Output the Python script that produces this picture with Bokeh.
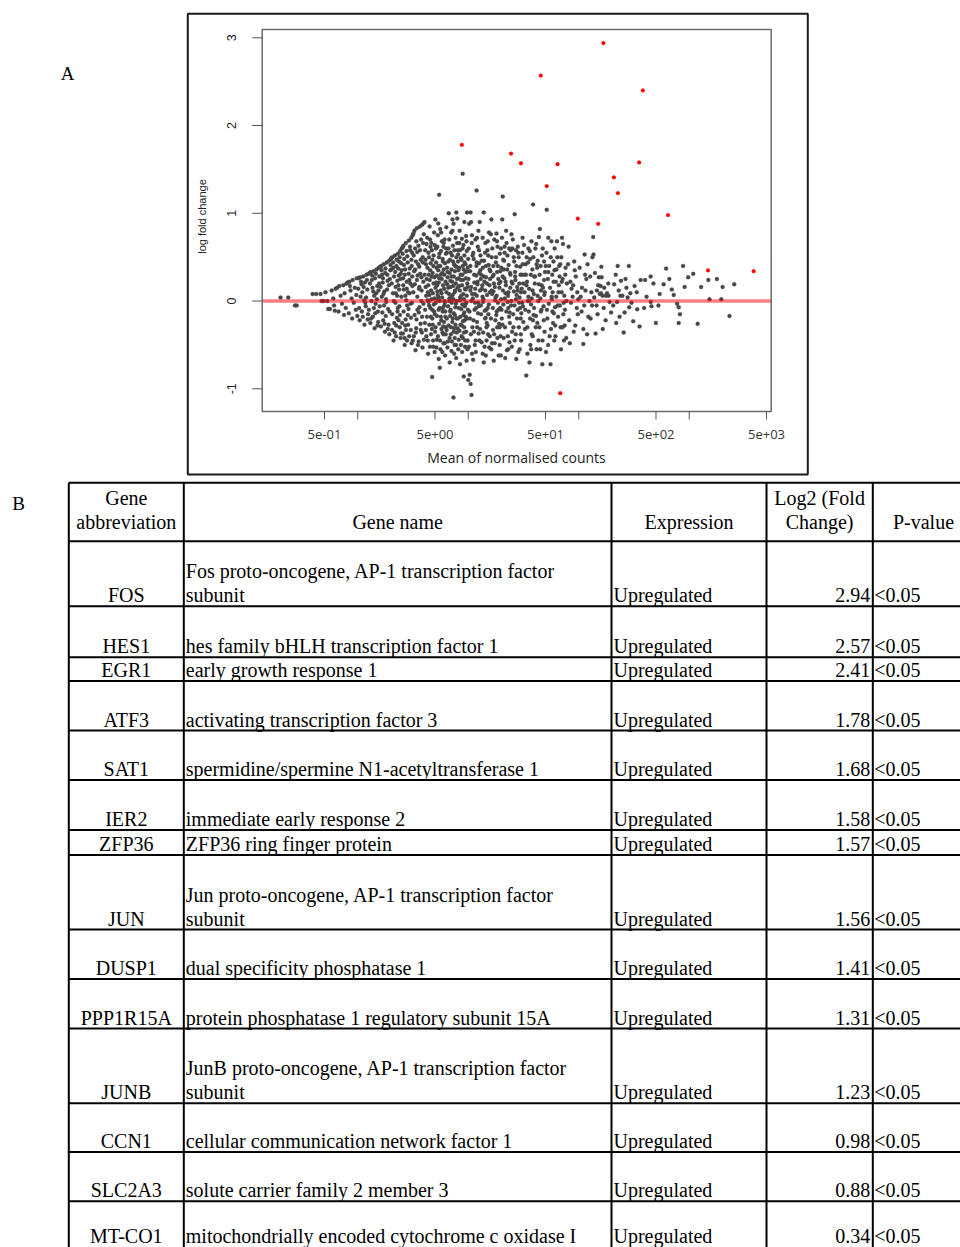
import math
from bokeh.plotting import figure
from bokeh.models import Range1d, LogScale, LinearScale
from bokeh.embed import file_html
from bokeh.resources import INLINE
from bokeh.core.properties import value

# ---------------- Panel A data (mean of normalised counts, log fold change) ----------------
gray_low = [
    (0.20,0.04),(0.235,0.04),(0.27,-0.05),(0.28,-0.05),(0.39,0.08),(0.42,0.08),(0.46,0.08),(0.47,0.0),(0.49,0.0),
    (0.51,0.10),(0.53,0.0),(0.54,-0.09),(0.56,-0.09),(0.58,0.12),(0.60,0.03),(0.61,-0.05),(0.63,0.14),(0.62,-0.11),
    (0.65,0.15),(0.68,0.17),(0.70,0.06),(0.72,-0.03),(0.74,0.18),(0.76,0.09),(0.78,-0.08),(0.67,-0.12),(0.75,-0.16),(0.79,0.20),
    (0.81,0.21),(0.84,0.22),(0.86,0.12),(0.88,0.03),(0.90,0.24),(0.92,-0.02),(0.94,0.15),(0.96,-0.10),(0.98,0.26),(0.83,-0.14),
    (0.89,-0.20),(0.97,0.07),(0.99,-0.17),(0.85,0.17),
    (1.02,0.26),(1.05,0.27),(1.08,0.19),(1.10,0.10),(1.12,0.28),(1.14,0.01),(1.16,0.21),(1.18,-0.06),(1.20,0.30),(1.22,0.13),
    (1.24,-0.15),(1.04,-0.22),(1.09,-0.12),(1.15,-0.27),(1.25,0.31),(1.19,0.04),(1.06,0.05),(1.23,-0.21),
    (1.28,0.32),(1.31,0.33),(1.34,0.24),(1.36,0.15),(1.39,0.34),(1.41,0.06),(1.43,0.26),(1.45,-0.03),(1.48,0.36),(1.50,0.17),
    (1.52,-0.12),(1.30,-0.25),(1.37,-0.18),(1.42,-0.31),(1.55,0.38),(1.47,0.09),(1.33,0.0),(1.53,-0.24),(1.57,0.28),(1.40,-0.08),(1.56,0.20),
    (1.60,0.39),(1.63,0.40),(1.66,0.30),(1.68,0.21),(1.72,0.42),(1.74,0.11),(1.77,0.32),(1.80,0.02),(1.83,0.44),(1.86,0.23),
    (1.88,-0.09),(1.62,-0.29),(1.70,-0.22),(1.76,-0.35),(1.92,0.46),(1.84,0.13),(1.65,0.05),(1.90,-0.27),(1.97,0.35),(1.73,-0.05),
    (1.95,0.25),(1.79,-0.17),(1.99,0.48),(1.61,0.16),(1.93,-0.38),
]

gray_mid = [
    (2.02,0.49),(2.06,0.50),(2.10,0.38),(2.13,0.28),(2.17,0.52),(2.20,0.16),(2.24,0.40),(2.27,0.06),(2.31,0.54),(2.35,0.29),
    (2.38,-0.06),(2.04,-0.33),(2.14,-0.25),(2.22,-0.40),(2.42,0.57),(2.33,0.18),(2.08,0.09),(2.40,-0.30),(2.47,0.43),(2.19,-0.02),
    (2.45,0.31),(2.26,-0.19),(2.50,0.60),(2.03,0.20),(2.44,-0.42),(2.29,-0.12),(2.11,-0.45),(2.36,0.45),
    (2.54,0.61),(2.59,0.63),(2.63,0.48),(2.68,0.36),(2.72,0.66),(2.77,0.22),(2.81,0.51),(2.85,0.10),(2.90,0.69),(2.95,0.37),
    (3.00,-0.03),(2.56,-0.37),(2.69,-0.28),(2.79,-0.45),(3.05,0.72),(2.93,0.24),(2.61,0.13),(3.02,-0.33),(3.10,0.55),(2.75,0.01),
    (3.08,0.40),(2.84,-0.16),(3.14,0.75),(2.57,0.26),(3.07,-0.48),(2.88,-0.09),(2.66,-0.50),(2.98,0.58),(2.71,-0.21),(3.12,0.17),
    (3.19,0.77),(3.25,0.80),(3.30,0.60),(3.36,0.45),(3.42,0.83),(3.48,0.29),(3.54,0.63),(3.58,0.14),(3.65,0.85),(3.71,0.47),
    (3.76,0.0),(3.22,-0.40),(3.38,-0.31),(3.51,-0.50),(3.83,0.87),(3.68,0.31),(3.28,0.19),(3.80,-0.36),(3.90,0.66),(3.46,0.05),
    (3.87,0.50),(3.57,-0.13),(3.95,0.89),(3.24,0.34),(3.85,-0.53),(3.62,-0.07),(3.33,-0.56),(3.74,0.70),(3.40,-0.21),(3.92,0.22),
    (3.60,0.39),(3.70,-0.26),(3.45,0.56),(3.78,0.12),(3.97,-0.44),
    (4.02,0.90),(4.08,0.58),(4.14,0.42),(4.20,0.25),(4.25,0.72),(4.31,0.10),(4.36,0.55),(4.42,-0.05),(4.47,0.85),(4.52,0.35),
    (4.58,-0.18),(4.63,0.66),(4.69,-0.32),(4.74,0.47),(4.80,-0.45),(4.85,0.20),(4.91,0.78),(4.96,-0.58),(4.05,-0.25),(4.17,-0.40),
    (4.28,0.01),(4.39,0.30),(4.50,-0.52),(4.61,0.12),(4.72,-0.10),(4.83,0.40),(4.94,0.03),(4.11,0.16),(4.33,-0.60),(4.55,0.62),
    (4.77,-0.27),(4.88,-0.04),(4.71,-0.865),(4.45,0.07),(4.66,0.28),(4.99,-0.15),
    (5.03,0.93),(5.10,0.60),(5.16,0.38),(5.22,0.18),(5.30,0.75),(5.36,0.05),(5.43,0.50),(5.50,-0.08),(5.57,0.82),(5.63,0.30),
    (5.70,-0.22),(5.77,0.68),(5.84,-0.36),(5.90,0.45),(5.97,-0.48),(6.04,0.14),(6.10,0.70),(6.17,-0.62),(5.06,-0.30),(5.19,-0.44),
    (5.33,0.02),(5.46,0.26),(5.60,-0.55),(5.73,0.09),(5.87,-0.12),(6.00,0.36),(6.14,-0.02),(5.13,0.21),(5.40,-0.66),(5.66,0.57),
    (5.93,-0.29),(6.07,-0.05),(5.53,-0.76),(5.26,0.11),(5.80,0.32),(6.21,-0.18),(6.27,0.54),(5.38,0.40),(5.95,0.62),(6.25,-0.38),
    (6.33,0.84),(6.41,0.55),(6.50,0.33),(6.58,0.15),(6.66,1.00),(6.75,0.03),(6.83,0.47),(6.92,-0.10),(7.00,0.78),(7.09,0.28),
    (7.17,-0.24),(7.26,0.63),(7.35,-1.10),(7.43,0.42),(7.52,-0.50),(7.60,0.12),(7.69,0.72),(7.77,-0.65),(6.37,-0.33),(6.54,-0.46),
    (6.71,0.00),(6.88,0.23),(7.05,-0.57),(7.22,0.07),(7.39,-0.14),(7.56,0.34),(7.73,-0.03),(6.45,0.19),(6.79,-0.70),(7.13,0.52),
    (7.47,-0.31),(7.64,-0.07),(6.96,-0.38),(7.30,0.17),(7.82,0.39),(7.86,-0.20),(6.62,0.60),(7.02,0.05),(7.36,0.88),(7.90,0.25),
    (6.85,-0.17),(7.55,-0.42),
    (7.95,0.94),(8.05,0.58),(8.15,0.35),(8.25,0.17),(8.35,0.80),(8.45,0.04),(8.55,0.49),(8.65,-0.09),(8.75,0.71),(8.85,0.30),
    (8.95,-0.23),(9.05,0.64),(9.15,-0.36),(9.25,0.44),(9.35,-0.52),(9.45,0.13),(9.55,0.74),(9.65,-0.68),(9.75,1.01),(9.85,-0.45),
    (8.00,-0.31),(8.20,-0.44),(8.40,0.01),(8.60,0.24),(8.80,-0.58),(9.00,0.08),(9.20,-0.13),(9.40,0.33),(9.60,-0.02),(9.80,0.20),
    (8.10,0.53),(8.50,-0.27),(8.90,0.40),(9.30,-0.06),(9.70,0.57),(9.10,-0.86),(8.30,0.66),(9.50,-0.18),(9.90,0.38),(8.70,-0.40),
    (9.22,0.90),(8.42,-0.72),(8.90,1.45),(5.45,1.21),(7.80,1.01),(7.20,0.93),(5.35,0.885),
    (10.1,0.60),(10.3,-0.84),(10.0,-0.90),(10.5,-0.945),(10.7,-1.07),(10.2,0.88),(10.4,0.34),(10.6,0.16),(10.8,0.75),(11.0,0.03),
    (11.2,0.48),(11.4,-0.10),(11.6,0.70),(11.8,0.29),(12.0,-0.24),(12.2,0.62),(12.4,-0.37),(12.5,0.43),(10.15,-0.52),(10.45,0.12),
    (10.75,0.66),(11.05,-0.67),(11.35,0.21),(11.65,-0.45),(11.95,0.06),(12.25,-0.14),(12.55,0.32),(10.9,-0.30),(11.5,-0.02),(12.1,0.19),
    (11.1,0.55),(11.7,-0.58),(10.35,-0.20),(12.35,0.80),(11.25,-0.35),(11.85,0.40),(10.65,0.00),(12.45,-0.06),(11.9,1.26),(10.5,1.01),(10.6,0.90),
    (12.7,0.90),(12.9,0.52),(13.1,0.30),(13.3,0.14),(13.5,0.72),(13.7,0.02),(13.9,0.46),(14.1,-0.11),(14.3,0.66),(14.5,0.27),
    (14.7,-0.25),(14.9,0.58),(15.1,-0.38),(15.3,0.41),(15.5,-0.53),(15.7,0.10),(12.8,-0.32),(13.2,-0.47),(13.6,-0.01),(14.0,0.22),
    (14.4,-0.62),(14.8,0.07),(15.2,-0.15),(15.6,0.36),(13.0,-0.05),(13.4,0.18),(13.8,-0.70),(14.2,0.55),(14.6,-0.30),(15.0,-0.08),
    (15.4,0.78),(13.55,0.38),(14.65,-0.45),(15.75,0.25),(12.75,0.12),(14.35,-0.19),(13.8,1.01),
    (16.0,0.76),(16.3,0.50),(16.6,0.28),(16.9,0.11),(17.2,0.70),(17.5,0.01),(17.8,0.44),(18.1,-0.12),(18.4,0.62),(18.7,0.25),
    (19.0,-0.26),(19.3,0.54),(19.6,-0.40),(19.9,0.38),(16.15,-0.55),(16.45,0.08),(16.75,-0.33),(17.05,0.20),(17.35,-0.48),(17.65,0.04),
    (17.95,-0.16),(18.25,0.33),(18.55,-0.02),(18.85,-0.62),(19.15,0.15),(19.45,-0.08),(19.75,0.60),(16.2,0.93),(17.0,-0.68),(18.0,0.77),
    (19.2,-0.30),(16.85,0.40),(18.35,-0.42),(19.55,0.22),
    (20.2,0.72),(20.7,0.47),(21.2,0.26),(21.7,0.09),(22.2,0.66),(22.7,-0.01),(23.2,0.41),(23.7,-0.13),(24.2,0.58),(24.7,0.22),
    (20.4,-0.27),(20.9,-0.42),(21.4,0.03),(21.9,0.18),(22.4,-0.56),(22.9,0.06),(23.4,-0.18),(23.9,0.32),(24.4,-0.05),(24.9,-0.35),
    (20.6,0.12),(21.6,-0.65),(22.6,0.52),(23.6,-0.47),(24.6,0.76),(21.0,0.36),(23.0,-0.08),(24.0,0.15),(22.0,0.80),(20.0,-0.10),
    (21.3,0.55),(20.5,1.19),(20.3,0.93),
    (25.3,0.70),(26.0,0.45),(26.7,0.24),(27.4,0.07),(28.1,0.62),(28.8,-0.02),(29.5,0.39),(30.2,-0.14),(30.9,0.55),(31.4,0.20),
    (25.6,-0.30),(26.3,-0.45),(27.0,0.02),(27.7,0.16),(28.4,-0.58),(29.1,0.04),(29.8,-0.20),(30.5,0.30),(31.2,-0.06),(25.9,0.11),
    (27.2,-0.66),(28.6,0.50),(29.9,-0.38),(31.0,0.72),(26.5,0.33),(28.0,-0.10),(30.0,0.10),(26.3,0.99),
    (32.0,0.64),(33.0,0.42),(34.0,0.22),(35.0,0.05),(36.0,0.57),(37.0,-0.04),(38.0,0.36),(39.0,-0.16),(32.5,-0.32),(33.5,-0.85),
    (34.5,0.00),(35.5,0.14),(36.5,-0.50),(37.5,0.03),(38.5,-0.22),(39.5,0.28),(32.3,0.10),(34.3,-0.60),(36.3,0.48),(38.3,-0.40),
    (33.3,0.30),(35.3,-0.12),(37.3,0.68),(38.6,1.10),(39.2,0.08),(35.8,-0.70),(33.8,0.50),
]

gray_core = [
    (1.01,0.14),(1.03,-0.08),(1.07,0.22),(1.11,-0.18),(1.13,0.16),(1.17,-0.02),(1.21,0.24),(1.26,-0.10),(1.29,0.20),(1.32,-0.20),
    (1.35,0.29),(1.38,0.11),(1.44,-0.14),(1.46,0.31),(1.49,0.02),(1.51,-0.28),(1.54,0.12),(1.58,-0.06),(1.64,0.35),(1.67,-0.13),
    (1.69,0.26),(1.71,0.08),(1.75,-0.26),(1.78,0.37),(1.81,-0.01),(1.85,0.30),(1.87,-0.32),(1.91,0.18),(1.94,-0.12),(1.98,0.41),
    (2.01,0.36),(2.05,-0.15),(2.09,0.44),(2.12,0.00),(2.16,-0.36),(2.18,0.33),(2.21,0.09),(2.23,-0.28),(2.25,0.47),(2.28,0.23),
    (2.30,-0.08),(2.32,0.37),(2.34,-0.22),(2.37,0.13),(2.39,0.50),(2.41,-0.16),(2.43,0.25),(2.46,-0.37),(2.48,0.05),(2.49,0.35),
    (2.52,-0.25),(2.55,0.54),(2.58,0.18),(2.60,-0.12),(2.62,0.41),(2.65,-0.42),(2.67,0.30),(2.70,0.06),(2.73,-0.33),(2.76,0.57),
    (2.78,0.14),(2.80,-0.05),(2.83,0.44),(2.86,-0.27),(2.89,0.31),(2.92,-0.40),(2.94,0.09),(2.97,0.62),(2.99,0.20),(3.03,-0.19),
    (3.06,0.47),(3.09,-0.02),(3.11,0.28),(3.15,-0.45),(3.18,0.10),(3.21,0.52),(3.27,-0.16),(3.31,0.36),(3.35,-0.36),(3.39,0.68),
    (3.43,0.24),(3.47,-0.10),(3.52,0.42),(3.56,-0.46),(3.61,0.16),(3.66,0.58),(3.72,-0.33),(3.77,0.27),(3.82,-0.18),(3.88,0.44),
    (3.93,-0.03),(3.96,0.76),
    (4.03,0.30),(4.07,-0.10),(4.10,0.47),(4.13,-0.33),(4.16,0.06),(4.19,0.65),(4.23,-0.18),(4.27,0.38),(4.30,-0.45),(4.34,0.18),
    (4.38,-0.01),(4.41,0.50),(4.44,-0.27),(4.48,0.24),(4.51,0.70),(4.54,-0.08),(4.57,0.43),(4.60,-0.38),(4.64,0.02),(4.68,0.58),
    (4.73,-0.20),(4.76,0.32),(4.79,0.09),(4.82,-0.52),(4.86,0.52),(4.90,-0.12),(4.93,0.27),(4.97,0.64),(5.01,-0.35),(5.05,0.15),
    (5.09,-0.02),(5.12,0.44),(5.15,-0.53),(5.18,0.29),(5.21,-0.17),(5.25,0.62),(5.28,0.07),(5.32,-0.40),(5.35,0.35),(5.39,-0.10),
    (5.42,0.21),(5.45,-0.26),(5.48,0.54),(5.52,0.00),(5.55,-0.45),(5.58,0.40),(5.62,0.12),(5.65,-0.18),(5.68,0.78),(5.72,-0.32),
    (5.75,0.25),(5.79,0.04),(5.82,-0.58),(5.86,0.48),(5.89,-0.08),(5.92,0.18),(5.96,-0.38),(5.99,0.66),(6.03,-0.24),(6.06,0.30),
    (6.09,0.00),(6.12,-0.48),(6.16,0.43),(6.19,-0.12),(6.23,0.22),(6.26,-0.30),(6.30,0.60),(6.35,0.10),(6.39,-0.20),(6.43,0.38),
    (6.48,-0.53),(6.52,0.27),(6.56,-0.06),(6.60,0.45),(6.64,-0.28),(6.69,0.08),(6.73,0.70),(6.77,-0.42),(6.81,0.32),(6.86,-0.12),
    (6.90,0.16),(6.94,0.55),(6.99,-0.30),(7.04,0.36),(7.08,-0.02),(7.11,-0.46),(7.15,0.22),(7.19,0.80),(7.24,-0.20),(7.28,0.45),
    (7.33,0.02),(7.38,-0.35),(7.41,0.28),(7.45,-0.60),(7.49,0.58),(7.53,0.10),(7.58,-0.16),(7.62,0.40),(7.66,-0.27),(7.71,0.20),
    (7.75,-0.50),(7.80,0.50),(7.84,0.00),(7.88,-0.36),(7.93,0.66),(7.98,0.15),(8.03,-0.20),(8.08,0.45),(8.12,-0.55),(8.18,0.26),
    (8.22,-0.08),(8.28,0.38),(8.33,-0.34),(8.38,0.12),(8.43,0.58),(8.48,-0.18),(8.53,0.30),(8.58,-0.50),(8.63,0.06),(8.68,0.47),
    (8.73,-0.28),(8.78,0.18),(8.83,-0.04),(8.88,0.60),(8.93,-0.42),(8.98,0.24),(9.03,-0.16),(9.08,0.36),(9.13,0.02),(9.18,-0.30),
    (9.23,0.52),(9.28,-0.22),(9.33,0.14),(9.38,-0.45),(9.43,0.42),(9.48,-0.03),(9.53,0.26),(9.58,-0.35),(9.63,0.68),(9.68,0.06),
    (9.73,-0.20),(9.78,0.34),(9.83,-0.55),(9.88,0.16),(9.93,-0.10),(9.97,0.48),
    (10.05,0.25),(10.25,-0.12),(10.45,0.40),(10.55,-0.38),(10.85,0.08),(10.95,0.52),(11.15,-0.22),(11.3,0.30),(11.45,-0.50),(11.55,0.14),
    (11.75,-0.08),(11.9,0.44),(12.05,-0.30),(12.15,0.22),(12.3,-0.02),(12.5,0.58),(12.6,-0.45),(12.85,0.35),(13.05,-0.15),(13.25,0.46),
    (13.45,0.05),(13.65,-0.36),(13.85,0.28),(14.05,-0.52),(14.25,0.12),(14.45,0.40),(14.55,-0.10),(14.75,0.20),(14.95,-0.28),(15.15,0.52),
    (15.35,-0.04),(15.55,0.18),(15.65,-0.40),(15.85,0.34),(16.05,-0.20),(16.25,0.12),(16.5,0.60),(16.7,-0.08),(16.95,0.30),(17.15,-0.38),
    (17.4,0.16),(17.6,-0.22),(17.85,0.50),(18.05,0.06),(18.3,-0.30),(18.5,0.40),(18.75,-0.10),(18.95,0.20),(19.25,-0.50),(19.5,0.34),
    (19.8,0.02),(20.1,-0.20),(20.45,0.28),(20.8,-0.04),(21.1,0.46),(21.5,-0.30),(21.8,0.22),(22.1,-0.12),(22.5,0.36),(22.8,-0.40),
    (23.1,0.10),(23.5,0.60),(23.8,-0.25),(24.1,0.30),(24.5,0.00),(24.8,-0.52),(25.1,0.20),(25.5,-0.15),(25.8,0.50),(26.2,-0.05),
    (26.6,0.28),(26.9,-0.38),(27.3,0.40),(27.6,-0.20),(28.0,0.12),(28.3,0.55),(28.7,-0.30),(29.0,0.20),(29.4,-0.08),(29.7,0.30),
    (30.1,-0.45),(30.4,0.14),(30.8,-0.02),(31.1,0.42),(31.5,-0.24),(10.8,-0.60),(12.0,0.72),(13.5,-0.60),(15.0,0.68),(16.4,-0.48),
    (18.2,0.68),(19.7,-0.62),(21.3,0.62),(23.0,-0.55),(25.0,0.60),(27.0,0.58),(29.2,-0.55),(11.5,0.08),(13.0,0.25),(14.2,-0.20),
    (32.2,0.30),(32.8,-0.10),(33.6,0.18),(34.2,-0.30),(34.8,0.44),(35.4,0.00),(36.2,-0.20),(36.8,0.30),(37.6,-0.38),(38.2,0.12),
    (38.8,0.50),(39.4,-0.08),(40.0,0.20),(40.8,-0.30),(41.6,0.42),(42.4,0.06),(43.2,-0.45),(44.2,0.30),(45.4,-0.12),(46.2,0.18),
    (47.2,0.60),(48.2,-0.22),(49.2,0.10),(50.2,0.40),(51.5,-0.10),(52.5,0.25),(54.5,-0.40),(55.8,0.50),(57.8,-0.12),(59.2,0.22),
    (61.2,-0.28),(62.8,0.36),(64.5,-0.05),(66.5,0.40),(68.5,-0.30),(70.2,0.22),(72.5,-0.15),(75.5,0.30),(77.5,0.00),(35.0,0.60),
    (37.0,-0.55),(41.2,0.65),(44.8,-0.55),(48.5,0.45),(52.8,-0.50),(56.8,0.05),(60.2,0.35),(65.5,0.10),(69.5,0.50),(73.5,-0.45),
]

gray_high = [
    (40.5,0.60),(42.0,0.38),(43.5,0.19),(45.0,0.03),(46.5,0.52),(48.0,-0.06),(49.5,0.33),(41.0,-0.17),(42.5,0.46),(44.0,-0.30),
    (45.5,0.12),(47.0,-0.45),(48.5,0.24),(41.5,-0.55),(43.0,0.00),(44.5,0.82),(46.0,-0.10),(47.5,0.15),(49.0,-0.35),(43.6,0.73),
    (46.8,-0.72),(40.2,0.28),(48.8,0.07),(45.2,0.40),(42.2,-0.25),
    (51,0.55),(53,0.33),(55,0.15),(57,0.02),(59,0.45),(61,-0.07),(52,-0.20),(54,0.40),(56,-0.32),(58,0.10),
    (60,-0.45),(62,0.22),(50.5,-0.58),(53.5,-0.03),(56.5,0.68),(59.5,-0.14),(62.5,0.05),(51.3,1.04),(55.5,-0.72),(57.5,0.30),
    (60.5,0.60),(58.5,-0.25),(53.0,0.72),(61.5,-0.40),
    (64,0.50),(67,0.28),(70,0.10),(73,-0.02),(76,0.38),(65,-0.18),(68,0.42),(71,-0.30),(74,0.06),(77,-0.42),
    (66,0.18),(69,-0.55),(72,0.65),(75,-0.10),(78,0.20),(63.5,0.68),(71.5,0.25),(67.5,-0.05),(74.5,-0.28),(70.5,0.72),
    (80,0.42),(84,0.22),(88,0.05),(92,0.35),(96,-0.08),(82,-0.22),(86,0.14),(90,-0.35),(94,0.28),(98,-0.15),
    (81,0.62),(85,-0.02),(89,0.18),(93,-0.28),(97,0.10),(83,-0.48),(91,0.45),(99,0.02),
    (102,0.38),(107,0.15),(112,-0.05),(117,0.25),(122,-0.18),(104,0.05),(110,-0.32),(115,0.12),(120,0.42),(125,0.00),
    (106,-0.12),(114,0.30),(119,-0.38),(110,-0.49),(113,0.53),
    (135,0.73),(136,0.53),(133,0.50),(127,0.28),(140,0.32),(130,0.10),(145,-0.05),(150,0.18),(128,-0.20),(138,0.04),
    (148,-0.15),(155,0.08),(142,-0.37),(132,-0.05),(152,0.27),(146,0.12),
    (160,0.39),(158,0.17),(161,0.27),(159,0.09),(165,-0.32),(176,0.06),(186,0.06),(180,0.09),(164,0.06),(170,0.15),
    (196,-0.13),(190,-0.01),(175,-0.22),(185,0.20),(168,-0.08),
    (209,0.19),(241,0.23),(218,-0.25),(222,-0.01),(238,0.06),(234,-0.18),(248,0.06),(216,0.30),(230,0.12),(205,-0.05),(225,0.40),
    (255,-0.36),(277,0.04),(284,0.40),(293,0.09),(286,-0.07),(270,0.15),(260,-0.13),(300,-0.02),(265,0.25),
    (320,0.17),(338,-0.095),(311,-0.23),(355,-0.29),(363,0.24),(398,0.24),(390,-0.08),(335,0.10),
    (411,0.05),(447,0.28),(474,0.20),(448,-0.01),(499,-0.25),(455,-0.06),
    (526,-0.05),(540,0.08),(586,0.19),(617,0.37),(660,0.25),(695,0.13),(724,0.07),(776,-0.03),(802,-0.07),(824,-0.15),(802,-0.25),
    (879,0.40),(908,0.16),(977,0.27),(1086,0.31),(1191,-0.26),(1280,0.16),(1489,0.24),(1524,0.02),(1778,0.25),(1950,0.02),
    (2004,0.16),(2312,-0.17),(2553,0.19),
]

# significant genes (red)
red_mean = [167, 45.3, 380, 8.75, 24.4, 30.0, 64.3, 352, 208, 51.3, 226, 643, 98, 150, 1479, 3828, 68]
red_lfc = [2.94, 2.57, 2.40, 1.78, 1.68, 1.57, 1.56, 1.58, 1.41, 1.31, 1.23, 0.98, 0.94, 0.88, 0.35, 0.34, -1.05]

x_ticks = [0.5, 1, 5, 10, 50, 100, 500, 1000, 5000]
x_tick_labels = ["5e-01", "", "5e+00", "", "5e+01", "", "5e+02", "", "5e+03"]
y_ticks = [-1, 0, 1, 2, 3]
y_tick_labels = ["-1", "0", "1", "2", "3"]
x_limits = (0.1365, 5515.0)
y_limits = (-1.259, 3.0946)

# ---------------- Panel B data ----------------
gene_abbrev = ["FOS", "HES1", "EGR1", "ATF3", "SAT1", "IER2", "ZFP36", "JUN", "DUSP1",
               "PPP1R15A", "JUNB", "CCN1", "SLC2A3", "MT-CO1"]
gene_name = [
    ["Fos proto-oncogene, AP-1 transcription factor", "subunit"],
    ["hes family bHLH transcription factor 1"],
    ["early growth response 1"],
    ["activating transcription factor 3"],
    ["spermidine/spermine N1-acetyltransferase 1"],
    ["immediate early response 2"],
    ["ZFP36 ring finger protein"],
    ["Jun proto-oncogene, AP-1 transcription factor", "subunit"],
    ["dual specificity phosphatase 1"],
    ["protein phosphatase 1 regulatory subunit 15A"],
    ["JunB proto-oncogene, AP-1 transcription factor", "subunit"],
    ["cellular communication network factor 1"],
    ["solute carrier family 2 member 3"],
    ["mitochondrially encoded cytochrome c oxidase I"],
]
expression = ["Upregulated"] * 14
log2_fc = [2.94, 2.57, 2.41, 1.78, 1.68, 1.58, 1.57, 1.56, 1.41, 1.31, 1.23, 0.98, 0.88, 0.34]
p_value = ["<0.05"] * 14
headers = [["Gene", "abbreviation"], ["Gene name"], ["Expression"], ["Log2 (Fold", "Change)"], ["P-value"]]

# ---------------- page canvas (pixel coordinates, y downwards) ----------------
W, H = 960, 1247
p = figure(width=W, height=H, x_range=Range1d(0, W), y_range=Range1d(H, 0),
           output_backend="svg", toolbar_location=None, min_border=0,
           x_axis_location=None, y_axis_location=None)
p.grid.visible = False
p.outline_line_color = None

# plot-panel geometry (pixels) and data scales for panel A
fl, fr, ft, fb = 261.7, 770.7, 29.0, 411.0
lx0, lx1 = math.log10(x_limits[0]), math.log10(x_limits[1])
lpp = (lx1 - lx0) / (fr - fl)
p.extra_x_ranges = {"lx": Range1d(10 ** (lx0 - fl * lpp), 10 ** (lx1 + (W - fr) * lpp))}
p.extra_x_scales = {"lx": LogScale()}
upp = (y_limits[1] - y_limits[0]) / (fb - ft)
p.extra_y_ranges = {"ly": Range1d(y_limits[0] - (H - fb) * upp, y_limits[1] + ft * upp)}
p.extra_y_scales = {"ly": LinearScale()}
A = dict(x_range_name="lx", y_range_name="ly")
XA = dict(x_range_name="lx")
YA = dict(y_range_name="ly")

# outer box of panel A
p.quad(left=[187.3], right=[807.3], top=[13.3], bottom=[474.0], fill_alpha=0,
       line_color="#1a1a1a", line_width=2)

gray = gray_low + gray_mid + gray_core + gray_high
gx = [q[0] for q in gray]
gy = [q[1] for q in gray]
p.scatter(gx, gy, size=4, fill_color="#474747", line_color="#474747", line_width=0.3, **A)
p.segment(x0=[x_limits[0]], x1=[x_limits[1]], y0=[0], y1=[0], line_color="red", line_alpha=0.5,
          line_width=3.5, **A)
p.scatter(red_mean, red_lfc, size=3.8, fill_color="red", line_color="red", line_width=0.3, **A)

# plot frame
p.quad(left=[x_limits[0]], right=[x_limits[1]], bottom=[y_limits[0]], top=[y_limits[1]],
       fill_alpha=0, line_color="#6a6a6a", line_width=1.5, **A)

# x axis ticks + labels
p.segment(x0=x_ticks, x1=x_ticks, y0=[fb] * len(x_ticks), y1=[fb + 8] * len(x_ticks),
          line_color="#555555", line_width=1, **XA)
p.text(x=x_ticks, y=[434] * len(x_ticks), text=x_tick_labels, text_font=value("Open Sans"),
       text_font_size="13px", text_color="#333333", text_align="center", text_baseline="middle", **XA)
p.text(x=[516], y=[456.5], text=["Mean of normalised counts"], text_font=value("Open Sans"),
       text_font_size="14px", text_color="#222222", text_align="center", text_baseline="middle")

# y axis ticks + labels
p.segment(x0=[fl - 10] * len(y_ticks), x1=[fl] * len(y_ticks), y0=y_ticks, y1=y_ticks,
          line_color="#555555", line_width=1, **YA)
p.text(x=[231] * len(y_ticks), y=y_ticks, text=y_tick_labels, angle=math.pi / 2,
       text_font=value("Liberation Sans"), text_font_size="12.5px", text_color="#222222",
       text_align="center", text_baseline="middle", **YA)
p.text(x=[201], y=[216], text=["log fold change"], angle=math.pi / 2,
       text_font=value("Liberation Sans"), text_font_size="11px", text_color="#222222",
       text_align="center", text_baseline="middle")

# panel letters
serif = value("Liberation Serif")
p.text(x=[67, 18], y=[73, 503], text=["A", "B"], text_font=serif, text_font_size="19px",
       text_color="black", text_align="center", text_baseline="middle")

# ---------------- table ----------------
col_lines = [68.3, 183.3, 611.0, 766.0, 872.3]
row_lines = [482.3, 540.7, 605.7, 656.7, 680.5, 730.0, 779.5, 829.5, 854.5, 929.0, 978.5, 1028.0,
             1102.7, 1151.5, 1200.7]

p.segment(x0=[col_lines[0]] * len(row_lines), x1=[975] * len(row_lines), y0=row_lines, y1=row_lines,
          line_color="black", line_width=2)
p.segment(x0=col_lines, x1=col_lines, y0=[row_lines[0]] * len(col_lines), y1=[1260] * len(col_lines),
          line_color="black", line_width=2)

fs = "20px"
hx = [(col_lines[0] + col_lines[1]) / 2, (col_lines[1] + col_lines[2]) / 2,
      (col_lines[2] + col_lines[3]) / 2, (col_lines[3] + col_lines[4]) / 2, 923]
tx, ty, tt = [], [], []
for i, h in enumerate(headers):
    base = row_lines[1] - 19
    for j, line in enumerate(reversed(h)):
        tx.append(hx[i]); ty.append(base - 24 * j); tt.append(line)
p.text(x=tx, y=ty, text=tt, text_font=serif, text_font_size=fs, text_align="center",
       text_baseline="middle", text_color="black")

# last row is cut by the page edge; keep its text just inside
row_bottoms = row_lines[2:] + [1246.0]
ax_x, ax_y, ax_t = [], [], []
nm_x, nm_y, nm_t = [], [], []
ex_x, ex_y, ex_t = [], [], []
fc_x, fc_y, fc_t = [], [], []
pv_x, pv_y, pv_t = [], [], []
for i in range(len(gene_abbrev)):
    b = row_bottoms[i] - 11
    ax_x.append((col_lines[0] + col_lines[1]) / 2); ax_y.append(b); ax_t.append(gene_abbrev[i])
    for j, line in enumerate(reversed(gene_name[i])):
        nm_x.append(col_lines[1] + 2); nm_y.append(b - 24 * j); nm_t.append(line)
    ex_x.append(col_lines[2] + 2); ex_y.append(b); ex_t.append(expression[i])
    fc_x.append(col_lines[4] - 2.5); fc_y.append(b); fc_t.append(f"{log2_fc[i]:.2f}")
    pv_x.append(col_lines[4] + 1.5); pv_y.append(b); pv_t.append(p_value[i])

p.text(x=ax_x, y=ax_y, text=ax_t, text_font=serif, text_font_size=fs, text_align="center",
       text_baseline="middle", text_color="black")
for xs, ys, ts in ((nm_x, nm_y, nm_t), (ex_x, ex_y, ex_t), (pv_x, pv_y, pv_t)):
    p.text(x=xs, y=ys, text=ts, text_font=serif, text_font_size=fs, text_align="left",
           text_baseline="middle", text_color="black")
p.text(x=fc_x, y=fc_y, text=fc_t, text_font=serif, text_font_size=fs, text_align="right",
       text_baseline="middle", text_color="black")

open("out.html", "w").write(file_html(p, INLINE))
